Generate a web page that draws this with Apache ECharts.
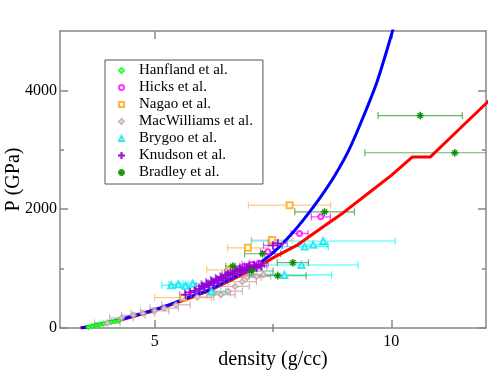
<!DOCTYPE html>
<html>
<head>
<meta charset="utf-8">
<script src="https://cdn.jsdelivr.net/npm/echarts@6/dist/echarts.min.js"></script>
<style>
  html, body { margin: 0; padding: 0; background: #fff; }
  #chart { width: 495px; height: 377px; }
</style>
</head>
<body>
<div id="chart"></div>
<script>
// model curves: [density, pressure]
const blueCurve = [[3.45,0],[3.7,40],[4.0,95],[4.3,150],[4.6,215],[5.0,310],[5.4,420],[5.8,540],[6.2,660],[6.6,830],[7.0,990],[7.3,1140],[7.6,1340],[7.9,1590],[8.2,1880],[8.5,2200],[8.8,2560],[9.1,2990],[9.4,3540],[9.7,4150],[10.0,4930],[10.2,5500]];
const redCurve = [[3.43,0],[3.7,35],[4.0,88],[4.3,140],[4.6,205],[5.0,298],[5.4,405],[5.8,522],[6.2,645],[6.6,800],[7.0,960],[7.2,1040],[7.5,1180],[8.0,1390],[8.5,1670],[9.0,1950],[9.5,2260],[10.0,2570],[10.44,2877],[10.82,2877],[11.4,3320],[12.0,3780],[12.2,3930]];

// experiments: [density, pressure, density error, pressure error]
const hanfland = [[3.6,15,0,0],[3.68,30,0,0],[3.76,45,0,0],[3.84,58,0,0],[3.92,72,0,0],[4.0,88,0,0],[4.08,100,0,0],[4.16,112,0,0],[4.24,125,0,0]];
const hicks = [[6.75,960,0.2,0],[6.9,1040,0.2,0],[7.05,1070,0.2,0],[7.2,1090,0.2,0],[7.39,1284,0.15,0],[8.06,1593,0.18,0],[8.51,1871,0.2,0]];
const nagao = [[5.6,510,0.6,0],[6.6,980,0.5,0],[6.97,1350,0.43,0],[7.48,1481,0.43,0],[7.85,2067,0.87,0]];
const macwilliams = [[4.0,85,0.27,30],[4.3,170,0.25,30],[4.55,215,0.25,35],[4.75,250,0.25,35],[5.0,290,0.3,40],[5.2,335,0.3,40],[5.45,390,0.3,40],[5.9,520,0.35,50],[6.25,590,0.35,50],[6.4,560,0.3,50],[6.55,620,0.3,55],[6.7,700,0.3,55],[6.85,780,0.3,60],[6.95,850,0.3,60],[7.15,870,0.3,60],[7.3,900,0.3,60]];
const brygoo = [[5.35,720,0.2,0],[5.5,735,0.2,0],[5.65,710,0.2,0],[5.8,745,0.2,0],[6.2,614,0.3,0],[7.74,894,1.0,0],[8.1,1061,1.2,0],[8.17,1370,0.5,0],[8.35,1400,0.3,0],[8.56,1465,1.52,0]];
const knudson = [[5.65,560,0.12,50],[5.75,600,0.12,50],[5.85,625,0.12,55],[5.95,660,0.12,55],[6.0,705,0.12,60],[6.05,690,0.12,60],[6.1,745,0.12,60],[6.15,720,0.12,60],[6.2,785,0.12,65],[6.25,760,0.12,65],[6.3,820,0.12,65],[6.35,800,0.12,65],[6.4,855,0.12,70],[6.45,830,0.12,70],[6.5,885,0.12,70],[6.55,905,0.12,70],[6.6,935,0.12,75],[6.65,910,0.12,75],[6.7,965,0.12,75],[6.75,950,0.12,75],[6.8,995,0.12,80],[6.85,975,0.12,80],[6.9,1005,0.12,80],[6.95,1015,0.12,80],[7.0,1035,0.12,80],[7.05,1000,0.12,80],[7.1,1055,0.12,80],[7.15,1025,0.12,80],[7.2,1065,0.12,80],[7.25,1045,0.12,80],[7.5,1390,0.2,60],[7.6,1425,0.2,60]];
const bradley = [[6.65,1040,0.15,0],[7.05,960,0.45,0],[7.28,1250,0.38,0],[7.6,880,0.6,0],[7.92,1100,0.33,0],[8.59,1955,0.63,0],[10.61,3576,0.89,0],[11.34,2950,1.9,0]];

const xMajor = [5, 10];
const xMinor = [7.5];
const yMajor = [0, 2000, 4000];
const yMinor = [1000, 3000];

const serif = '"Liberation Serif", "DejaVu Serif", serif';
const frame = { show: true, onZero: false, lineStyle: { color: '#888', width: 1.5 } };

function errorBars(color) {
  return function (params, api) {
    const x = api.value(0);
    const y = api.value(1);
    const lo = api.coord([x - api.value(2), y]);
    const hi = api.coord([x + api.value(2), y]);
    const h = 3.5;
    const style = { stroke: color, lineWidth: 1.2, opacity: 0.75 };
    const children = [];
    if (api.value(2) > 0) {
      children.push(
        { type: 'line', shape: { x1: lo[0], y1: lo[1], x2: hi[0], y2: hi[1] }, style },
        { type: 'line', shape: { x1: lo[0], y1: lo[1] - h, x2: lo[0], y2: lo[1] + h }, style },
        { type: 'line', shape: { x1: hi[0], y1: hi[1] - h, x2: hi[0], y2: hi[1] + h }, style },
      );
    }
    if (api.value(3) > 0) {
      const bot = api.coord([x, y - api.value(3)]);
      const top = api.coord([x, y + api.value(3)]);
      children.push({ type: 'line', shape: { x1: bot[0], y1: bot[1], x2: top[0], y2: top[1] }, style });
    }
    return { type: 'group', children };
  };
}

function tickLabel(v) { return String(v); }

function xAxisDef(pos, ticks, len, labels) {
  return {
    type: 'value', min: 3, max: 12, position: pos,
    axisLine: len > 5 ? frame : { show: false },
    axisTick: { show: true, inside: true, length: len, customValues: ticks, lineStyle: { color: '#888', width: 1.5 } },
    axisLabel: labels ? { show: true, customValues: labels, formatter: tickLabel, color: '#000', fontFamily: serif, fontSize: 16, margin: 6 } : { show: false },
    splitLine: { show: false },
  };
}
function yAxisDef(pos, ticks, len, labels) {
  return {
    type: 'value', min: 0, max: 5000, position: pos,
    axisLine: len > 5 ? frame : { show: false },
    axisTick: { show: true, inside: true, length: len, customValues: ticks, lineStyle: { color: '#888', width: 1.5 } },
    axisLabel: labels ? { show: true, customValues: labels, formatter: tickLabel, color: '#000', fontFamily: serif, fontSize: 16, margin: 3 } : { show: false },
    splitLine: { show: false },
  };
}

const plusPath = 'path://M4.5,0H5.5V10H4.5Z M0,4.5H10V5.5H0Z';
const starPath = 'path://M4.5,0H5.5V10H4.5Z M0,4.5H10V5.5H0Z M1.3,1.9L1.9,1.3L8.7,8.1L8.1,8.7Z M8.1,1.3L8.7,1.9L1.9,8.7L1.3,8.1Z';

const experiments = [
  { name: 'Hanfland et al.', data: hanfland, symbol: 'emptyDiamond', size: 4, color: '#00ff00', bar: '#00ff00' },
  { name: 'Hicks et al.', data: hicks, symbol: 'emptyCircle', size: 5, color: '#ff00ff', bar: '#ff00ff' },
  { name: 'Nagao et al.', data: nagao, symbol: 'emptyRect', size: 6, color: '#ffa500', bar: '#ffb860' },
  { name: 'MacWilliams et al.', data: macwilliams, symbol: 'emptyDiamond', size: 5, color: '#c9a3a3', bar: '#c49c9c' },
  { name: 'Brygoo et al.', data: brygoo, symbol: 'emptyTriangle', size: 6, color: '#00e5ee', bar: '#00ffff' },
  { name: 'Knudson et al.', data: knudson, symbol: plusPath, size: 8, color: '#9400d3', bar: '#a040e0' },
  { name: 'Bradley et al.', data: bradley, symbol: starPath, size: 7, color: '#008b00', bar: '#3a9a3a' },
];

const series = [];
experiments.forEach((e) => {
  series.push({
    name: e.name + ' err', type: 'custom', clip: true, z: e.name.startsWith('Knudson') ? 4 : 2,
    renderItem: errorBars(e.bar), encode: { x: 0, y: 1 },
    data: e.data.filter((d) => d[2] > 0 || d[3] > 0),
  });
});
series.push(
  { name: 'model 1', type: 'line', data: redCurve, showSymbol: false, clip: true, z: 3,
    lineStyle: { color: '#ff0000', width: 3 } },
  { name: 'model 2', type: 'line', data: blueCurve, smooth: 0.3, showSymbol: false, clip: true, z: 3,
    lineStyle: { color: '#0000ff', width: 3 } },
);
experiments.forEach((e) => {
  series.push({
    name: e.name, type: 'scatter', symbol: e.symbol, symbolSize: e.size, z: 5,
    itemStyle: { color: e.color, borderColor: e.color, borderWidth: 1 },
    data: e.data.map((d) => [d[0], d[1]]),
  });
});

const chart = echarts.init(document.getElementById('chart'));
chart.setOption({
  animation: false,
  grid: { left: 60, top: 31, right: 9, bottom: 49, containLabel: false, outerBoundsMode: 'none' },
  xAxis: [
    Object.assign(xAxisDef('bottom', xMajor, 8, xMajor), {
      name: 'density (g/cc)', nameLocation: 'middle', nameGap: 22, nameMoveOverlap: false,
      nameTextStyle: { fontFamily: serif, fontSize: 20, color: '#000' },
    }),
    xAxisDef('bottom', xMinor, 4, null),
    xAxisDef('top', xMajor, 8, null),
    xAxisDef('top', xMinor, 4, null),
  ],
  yAxis: [
    Object.assign(yAxisDef('left', yMajor, 8, yMajor), {
      name: 'P (GPa)', nameLocation: 'middle', nameGap: 36, nameMoveOverlap: false,
      nameTextStyle: { fontFamily: serif, fontSize: 20, color: '#000' },
    }),
    yAxisDef('left', yMinor, 4, null),
    yAxisDef('right', yMajor, 8, null),
    yAxisDef('right', yMinor, 4, null),
  ],
  legend: {
    orient: 'vertical', left: 105, top: 60,
    padding: [2, 10, 3, 13],
    itemWidth: 5, itemHeight: 5, itemGap: 0,
    borderColor: '#555', borderWidth: 1,
    data: experiments.map((e) => e.name),
    textStyle: { fontFamily: serif, fontSize: 15, color: '#000', lineHeight: 17, padding: [0, 0, 0, 10] },
  },
  series,
});
</script>
</body>
</html>
